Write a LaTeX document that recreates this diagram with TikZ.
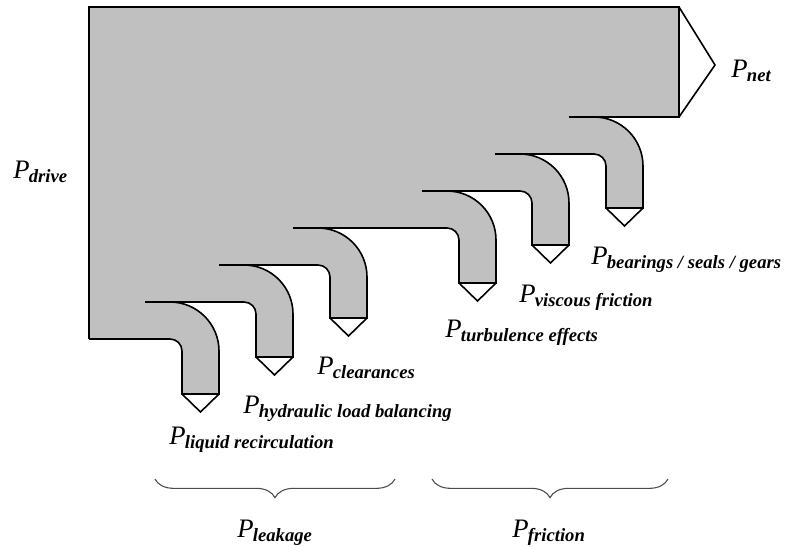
\documentclass[tikz,border=0pt]{standalone}
\usepackage{fontspec}
\setmainfont{Liberation Serif}
\usetikzlibrary{decorations.pathreplacing}

\definecolor{flowgray}{RGB}{192,192,192}
\newcommand{\pwr}[1]{{\fontsize{20}{20}\selectfont\itshape P}\kern-0.5pt{\fontsize{14}{14}\selectfont\bfseries\itshape\raisebox{-3pt}{#1}}}

\begin{document}
\begin{tikzpicture}[x=0.75pt, y=-0.75pt,
    flowline/.style={line width=1.2pt},
    lbl/.style={anchor=base west, inner sep=0pt},
    sumbrace/.style={decorate, decoration={brace, mirror, amplitude=14pt}, line width=0.8pt, black!70}]
    \useasboundingbox (0,0) rectangle (785,546);

    % grey body of the flow
    \fill[flowgray] (89,7) -- (679,7) -- (679,117) -- (594,117) -- (594,154) -- (520,154)
      -- (520,191) -- (447,191) -- (447,228) -- (318,228) -- (318,265) -- (244,265)
      -- (244,302) -- (170,302) -- (170,339) -- (89,339) -- cycle;
    \foreach \xl/\yt/\yb/\xn in {606/117/208/495, 532/154/245/422, 459/191/283/293,
                                 330/228/318/219, 256/265/357/145, 182/302/394/89} {
      \fill[flowgray] ({\xl-12},\yt) .. controls ({\xl+15.06},\yt) and ({\xl+37},{\yt+21.94}) .. ({\xl+37},{\yt+49})
        -- ({\xl+37},\yb) -- (\xl,\yb) -- (\xl,{\yt+49})
        .. controls (\xl,{\yt+42.37}) and ({\xl-5.37},{\yt+37}) .. ({\xl-12},{\yt+37}) -- cycle;
      % outer edge, tip, inner edge
      \draw[flowline] ({\xl-37},\yt) -- ({\xl-12},\yt) .. controls ({\xl+15.06},\yt) and ({\xl+37},{\yt+21.94}) .. ({\xl+37},{\yt+49})
        -- ({\xl+37},\yb) -- (\xl,\yb) -- (\xl,{\yt+49})
        .. controls (\xl,{\yt+42.37}) and ({\xl-5.37},{\yt+37}) .. ({\xl-12},{\yt+37}) -- (\xn,{\yt+37});
      \draw[flowline] (\xl,\yb) -- ({\xl+18.5},{\yb+18}) -- ({\xl+37},\yb);
    }

    % trunk edges and the net output
    \draw[flowline] (89,339) -- (89,7) -- (679,7) -- (679,117) -- (569,117);
    \coordinate (nettip) at (715,65);
    \draw[flowline] (679,7) -- (nettip) -- (679,117);

    \node[lbl] (pdrive) at (13,178) {\pwr{drive}};
    \node[lbl] (pnet) at (731,77) {\pwr{net}};
    \node[lbl] (pbear) at (591,264) {\pwr{bearings / seals / gears}};
    \node[lbl] (pvisc) at (519,302) {\pwr{viscous friction}};
    \node[lbl] (pturb) at (445,337) {\pwr{turbulence effects}};
    \node[lbl] (pclear) at (317,374) {\pwr{clearances}};
    \node[lbl] (phydr) at (243,413) {\pwr{hydraulic load balancing}};
    \node[lbl] (pliq) at (169,444) {\pwr{liquid recirculation}};

    \draw[sumbrace] (155,479) -- (395,479);
    \draw[sumbrace] (432,479) -- (668,479);
    \node[lbl] (pleak) at (237,537) {\pwr{leakage}};
    \node[lbl] (pfric) at (512,537) {\pwr{friction}};
  \end{tikzpicture}
\end{document}
